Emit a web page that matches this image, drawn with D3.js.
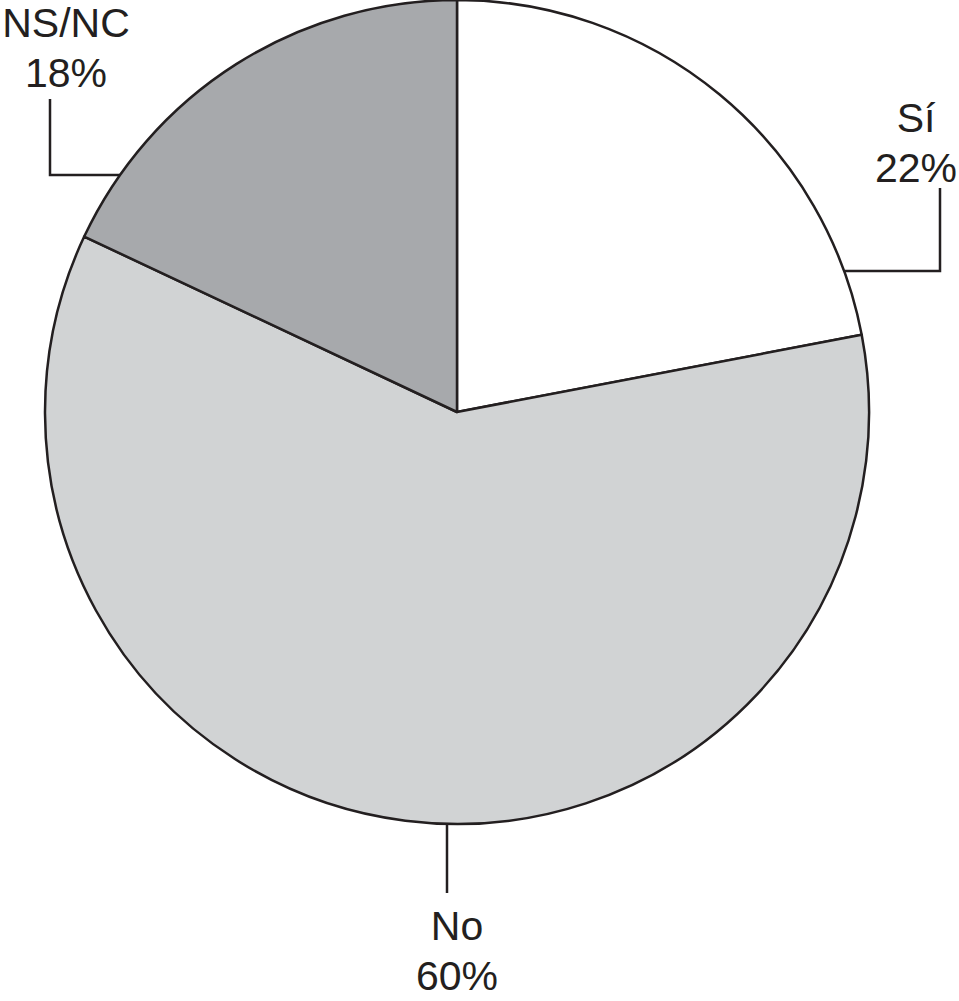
<!DOCTYPE html>
<html>
<head>
<meta charset="utf-8">
<script src="https://cdn.jsdelivr.net/npm/d3@7"></script>
<style>
  html, body { margin: 0; padding: 0; background: #fff; }
  svg { display: block; }
  text { font-family: "Liberation Sans", Arial, Helvetica, sans-serif; fill: #231f20; }
</style>
</head>
<body>
<svg id="chart" width="959" height="1001"></svg>
<script>
// datos
const categories = ["Sí", "No", "NS/NC"];
const values = [22, 60, 18];
const sliceColors = ["#ffffff", "#d1d3d4", "#a7a9ac"];

// posiciones de etiquetas (layout, no datos)
const labelLayout = {
    "Sí":    { x: 916, y: 132, leader: [[845, 271], [940, 271], [940, 188]] },
    "No":    { x: 457, y: 940, leader: [[447, 824], [447, 893]] },
    "NS/NC": { x: 66,  y: 37,  leader: [[120, 175], [50, 175], [50, 99]] }
};

const svg = d3.select("#chart"),
    cx = 457, cy = 412, radius = 412;

const pie = d3.pie().sort(null).value(d => d.value);
const arc = d3.arc().innerRadius(0).outerRadius(radius);

const data = categories.map((c, i) => ({ name: c, value: values[i], color: sliceColors[i] }));

const g = svg.append("g").attr("transform", `translate(${cx},${cy})`);

g.selectAll("path")
    .data(pie(data))
    .join("path")
    .attr("d", arc)
    .attr("fill", d => d.data.color)
    .attr("stroke", "#231f20")
    .attr("stroke-width", 2.5)
    .attr("stroke-linejoin", "round");

const line = d3.line();

data.forEach(d => {
    const l = labelLayout[d.name];
    svg.append("path")
        .attr("d", line(l.leader))
        .attr("fill", "none")
        .attr("stroke", "#231f20")
        .attr("stroke-width", 2.5);

    const t = svg.append("text")
        .attr("x", l.x)
        .attr("y", l.y)
        .attr("text-anchor", "middle")
        .style("font-size", "41px");
    t.append("tspan").attr("x", l.x).text(d.name);
    t.append("tspan").attr("x", l.x).attr("dy", 50).text(d.value + "%");
});
</script>
</body>
</html>
